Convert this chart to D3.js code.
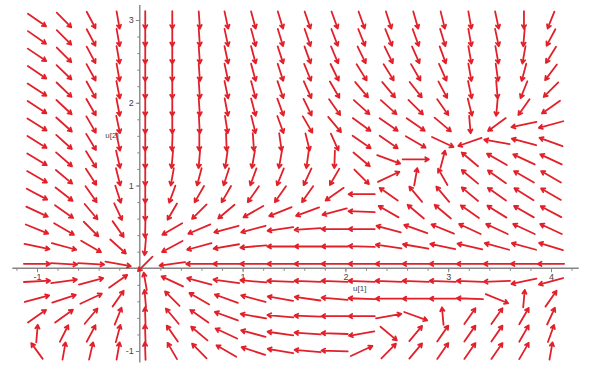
<!DOCTYPE html>
<html>
<head>
<meta charset="utf-8">
<script src="https://cdn.jsdelivr.net/npm/d3@7"></script>
<style>
  html, body { margin: 0; padding: 0; background: #fff; }
  svg { display: block; }
</style>
</head>
<body>
<svg id="field" width="593" height="372"></svg>
<script>
// grid of the direction field (20 x 20)
const u1Grid = [-1, -0.737, -0.474, -0.211, 0.053, 0.316, 0.579, 0.842, 1.105, 1.368,
  1.632, 1.895, 2.158, 2.421, 2.684, 2.947, 3.211, 3.474, 3.737, 4];
const u2Grid = [3, 2.789, 2.579, 2.368, 2.158, 1.947, 1.737, 1.526, 1.316, 1.105,
  0.895, 0.684, 0.474, 0.263, 0.053, -0.158, -0.368, -0.579, -0.789, -1];

// arrow direction in degrees as seen on the plot (0 = right, 90 = up), one row per u2Grid value
const angles = [
  [-35, -45, -62, -80, -90, -90, -86, -78, -75, -73, -71, -70, -70, -72, -74, -76, -80, -78, -90, -112],
  [-35, -45, -62, -80, -90, -90, -86, -78, -75, -73, -71, -69, -68, -68, -70, -73, -80, -78, -95, -118],
  [-34, -45, -62, -80, -90, -90, -86, -78, -75, -72, -70, -67, -64, -64, -66, -70, -80, -80, -100, -122],
  [-34, -44, -61, -80, -90, -90, -86, -78, -75, -72, -68, -64, -58, -58, -60, -66, -80, -82, -105, -127],
  [-33, -44, -61, -79, -90, -90, -86, -78, -75, -71, -66, -60, -50, -50, -52, -62, -78, -85, -112, -135],
  [-33, -43, -60, -79, -90, -90, -86, -79, -75, -70, -64, -55, -42, -42, -45, -55, -76, -95, -125, -145],
  [-32, -42, -60, -78, -90, -90, -87, -81, -76, -70, -60, -50, -36, -35, -35, -40, -85, -144, -168, -165],
  [-32, -42, -59, -78, -90, -92, -90, -88, -86, -82, -76, -66, -35, -35, -30, -25, -161, 170, 165, 160],
  [-31, -41, -58, -77, -90, -95, -95, -98, -100, -100, -98, -92, -40, -20, 0, 75, 140, 150, 155, 155],
  [-30, -40, -57, -76, -90, -100, -105, -108, -110, -112, -115, -120, -45, 25, 80, 120, 140, 145, 150, 150],
  [-28, -38, -55, -72, -90, -110, -120, -120, -125, -125, -125, -145, 180, 145, 130, 130, 140, 145, 148, 150],
  [-25, -35, -50, -65, -90, -120, -135, -140, -150, -158, -160, -165, 178, 150, 140, 140, 145, 148, 150, 152],
  [-22, -30, -45, -55, -91, -150, -157, -165, -165, -172, -176, 180, 180, 165, 160, 158, 155, 155, 155, 155],
  [-12, -15, -30, -42, -95, -152, -165, -170, -175, 180, 180, 180, 178, 172, 170, 168, 167, 165, 165, 163],
  [0, -3, -3, -10, -135, -172, 180, 180, 180, 180, 180, 180, 180, 180, 180, 180, 180, 180, 180, 180],
  [3, 8, 15, 35, 100, 155, 165, 172, 175, 178, 178, 178, 178, 178, 178, 178, 178, -178, -168, -165],
  [15, 18, 25, 55, 95, 135, 150, 160, 165, 170, 172, 175, 178, 180, 180, 180, 178, -22, 85, 55],
  [35, 36, 50, 68, 92, 130, 145, 160, 170, 175, 178, 180, 180, 10, -20, 95, 55, 55, 60, 65],
  [85, 63, 62, 75, 92, 125, 140, 155, 165, 172, 176, 178, -170, -40, 50, 55, 55, 55, 60, 70],
  [126, 80, 77, 80, 92, 120, 135, 150, 162, 170, 175, 178, 25, 45, 50, 55, 55, 55, 60, 80]
];

const xTickLabels = [-1, 1, 2, 3, 4];
const yTickLabels = [-1, 1, 2, 3];

const svg = d3.select("#field");
const x = d3.scaleLinear().domain([-1, 4]).range([37, 551]);
const y = d3.scaleLinear().domain([-1, 3]).range([351, 20]);
const x0 = x(0), y0 = y(0);
const axisColor = "#858585";
const labelFont = "'Liberation Sans', Arial, sans-serif";

// axis lines through the origin
svg.append("line")
  .attr("x1", x(-1.24)).attr("x2", x(4.27))
  .attr("y1", y0).attr("y2", y0)
  .attr("stroke", axisColor).attr("stroke-width", 1.4);
svg.append("line")
  .attr("x1", x0).attr("x2", x0)
  .attr("y1", y(3.18)).attr("y2", y(-1.14))
  .attr("stroke", axisColor).attr("stroke-width", 1.4);

const xMinor = d3.range(-12, 43, 2).map((v) => v / 10);
const yMinor = d3.range(-10, 32, 2).map((v) => v / 10);

function styleAxis(g) {
  g.select(".domain").remove();
  g.selectAll(".tick line").attr("stroke", axisColor);
  g.selectAll(".tick text")
    .attr("fill", "#444")
    .style("font-family", labelFont)
    .style("font-size", "9px");
}

svg.append("g")
  .attr("transform", `translate(0,${y0})`)
  .call(d3.axisBottom(x).tickValues(xMinor).tickSize(2.5).tickFormat(""))
  .call(styleAxis);
svg.append("g")
  .attr("transform", `translate(0,${y0})`)
  .call(d3.axisBottom(x).tickValues(xTickLabels).tickSize(4).tickPadding(1).tickFormat((d) => String(d)))
  .call(styleAxis);

svg.append("g")
  .attr("transform", `translate(${x0},0)`)
  .call(d3.axisLeft(y).tickValues(yMinor).tickSize(2.5).tickFormat(""))
  .call(styleAxis);
svg.append("g")
  .attr("transform", `translate(${x0},0)`)
  .call(d3.axisLeft(y).tickValues(yTickLabels).tickSize(4).tickPadding(2).tickFormat((d) => String(d)))
  .call(styleAxis);

// axis titles
svg.append("text")
  .attr("x", x(2.14)).attr("y", y(-0.27))
  .attr("text-anchor", "middle")
  .attr("fill", "#444")
  .style("font-family", labelFont).style("font-size", "8px")
  .text("u[1]");
svg.append("text")
  .attr("x", x(-0.27)).attr("y", y(1.58))
  .attr("text-anchor", "middle")
  .attr("fill", "#444")
  .style("font-family", labelFont).style("font-size", "8px")
  .text("u[2]");

// arrows: length fits the grid cell in the arrow's direction
const cellW = x(u1Grid[1]) - x(u1Grid[0]);
const cellH = y(u2Grid[0]) - y(u2Grid[1]);
const a = cellW * 0.97, b = cellH * 1.0;
const headLen = 4.2, headAng = 30 * Math.PI / 180;

const arrows = [];
angles.forEach((row, j) => {
  row.forEach((deg, i) => {
    arrows.push({ u1: u1Grid[i], u2: u2Grid[j], deg });
  });
});

function arrowPath(d) {
  const t = d.deg * Math.PI / 180;
  const ux = Math.cos(t), uy = -Math.sin(t);
  const len = 1 / Math.sqrt((ux / a) ** 2 + (uy / b) ** 2);
  const cx = x(d.u1), cy = y(d.u2);
  const x1 = cx - ux * len / 2, y1 = cy - uy * len / 2;
  const x2 = cx + ux * len / 2, y2 = cy + uy * len / 2;
  const back = Math.atan2(-uy, -ux);
  const hx1 = x2 + headLen * Math.cos(back + headAng), hy1 = y2 + headLen * Math.sin(back + headAng);
  const hx2 = x2 + headLen * Math.cos(back - headAng), hy2 = y2 + headLen * Math.sin(back - headAng);
  return `M${x1},${y1}L${x2},${y2}M${hx1},${hy1}L${x2},${y2}L${hx2},${hy2}`;
}

svg.append("g")
  .selectAll("path")
  .data(arrows)
  .join("path")
  .attr("d", arrowPath)
  .attr("fill", "none")
  .attr("stroke", "#e2202a")
  .attr("stroke-width", 1.8)
  .attr("stroke-linecap", "round")
  .attr("stroke-linejoin", "round");
</script>
</body>
</html>
